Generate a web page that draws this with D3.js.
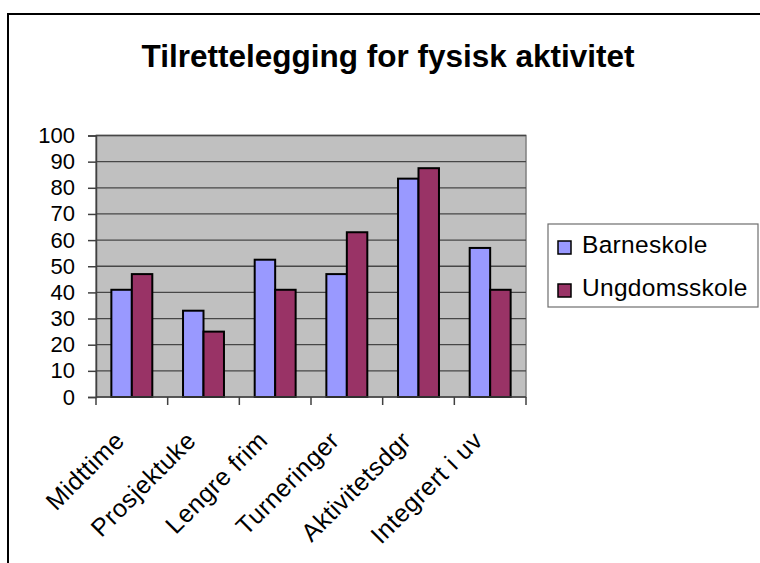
<!DOCTYPE html>
<html>
<head>
<meta charset="utf-8">
<script src="https://cdn.jsdelivr.net/npm/d3@7"></script>
<style>
  body { margin: 0; background: #fff; }
  text { font-family: Arial, "Liberation Sans", sans-serif; }
</style>
</head>
<body>
<div id="chart"></div>
<script>
// data
var categories = ["Midttime", "Prosjektuke", "Lengre frim", "Turneringer", "Aktivitetsdgr", "Integrert i uv"];
var seriesNames = ["Barneskole", "Ungdomsskole"];
var barneskole = [41, 33, 52.5, 47, 83.5, 57];
var ungdomsskole = [47, 25, 41, 63, 87.5, 41];
var yTicks = [0, 10, 20, 30, 40, 50, 60, 70, 80, 90, 100];
var colors = ["#9999ff", "#993366"];

var W = 760, H = 563;
var plot = {left: 96, right: 526, top: 135.5, bottom: 397};

var svg = d3.select("#chart")
  .append("svg")
    .attr("width", W)
    .attr("height", H);

// outer chart frame (runs off the right and bottom edge)
svg.append("rect")
  .attr("x", 8).attr("y", 14)
  .attr("width", 800).attr("height", 700)
  .attr("fill", "#fff")
  .attr("stroke", "#000")
  .attr("stroke-width", 2);

svg.append("text")
  .attr("x", 388).attr("y", 67)
  .attr("text-anchor", "middle")
  .style("font-size", "31.5px")
  .style("font-weight", "bold")
  .text("Tilrettelegging for fysisk aktivitet");

var x = d3.scaleBand()
  .domain(categories)
  .range([plot.left, plot.right]);

var xSub = d3.scaleBand()
  .domain(seriesNames)
  .range([0, x.bandwidth()])
  .paddingOuter(0.75);

var y = d3.scaleLinear()
  .domain([0, 100])
  .range([plot.bottom, plot.top]);

// plot area
svg.append("rect")
  .attr("x", plot.left).attr("y", plot.top)
  .attr("width", plot.right - plot.left)
  .attr("height", plot.bottom - plot.top)
  .attr("fill", "#c0c0c0")
  .attr("stroke", "#808080")
  .attr("stroke-width", 1.5);

// gridlines
svg.append("g")
  .selectAll("line")
  .data(yTicks.filter(function(d) { return d > 0; }))
  .enter()
  .append("line")
    .attr("x1", plot.left).attr("x2", plot.right)
    .attr("y1", function(d) { return y(d); })
    .attr("y2", function(d) { return y(d); })
    .attr("stroke", "#474747")
    .attr("stroke-width", 1.3);

// y axis
var yAxis = svg.append("g")
  .attr("transform", "translate(" + plot.left + ",0)")
  .call(d3.axisLeft(y).tickValues(yTicks).tickSize(8).tickPadding(13));
yAxis.select(".domain").attr("stroke", "#404040").attr("stroke-width", 1.5);
yAxis.selectAll(".tick line").attr("stroke", "#404040").attr("stroke-width", 1.5);
yAxis.selectAll("text")
  .style("font-size", "22px")
  .style("font-family", "Arial, 'Liberation Sans', sans-serif")
  .attr("fill", "#000");

// bars
var data = categories.map(function(c, i) {
  return {cat: c, values: [barneskole[i], ungdomsskole[i]]};
});

var groups = svg.append("g")
  .selectAll("g")
  .data(data)
  .enter()
  .append("g")
    .attr("transform", function(d) { return "translate(" + x(d.cat) + ",0)"; });

groups.selectAll("rect")
  .data(function(d) { return d.values.map(function(v, j) { return {key: seriesNames[j], value: v, j: j}; }); })
  .enter()
  .append("rect")
    .attr("x", function(d) { return xSub(d.key); })
    .attr("y", function(d) { return y(d.value); })
    .attr("width", xSub.bandwidth())
    .attr("height", function(d) { return y(0) - y(d.value); })
    .attr("fill", function(d) { return colors[d.j]; })
    .attr("stroke", "#000")
    .attr("stroke-width", 2);

// x axis line and ticks at band edges
svg.append("line")
  .attr("x1", plot.left).attr("x2", plot.right)
  .attr("y1", plot.bottom).attr("y2", plot.bottom)
  .attr("stroke", "#404040").attr("stroke-width", 1.5);

var edges = categories.map(function(c) { return x(c); }).concat([plot.right]);
svg.append("g")
  .selectAll("line")
  .data(edges)
  .enter()
  .append("line")
    .attr("x1", function(d) { return d; }).attr("x2", function(d) { return d; })
    .attr("y1", plot.bottom).attr("y2", plot.bottom + 8)
    .attr("stroke", "#404040").attr("stroke-width", 1.5);

// rotated category labels
svg.append("g")
  .selectAll("text")
  .data(categories)
  .enter()
  .append("text")
    .attr("text-anchor", "end")
    .attr("transform", function(d) {
      var cx = x(d) + x.bandwidth() / 2 - 6;
      return "translate(" + cx + ",442) rotate(-45)";
    })
    .style("font-size", "25px")
    .style("letter-spacing", "0.5px")
    .text(function(d) { return d; });

// legend
var legend = svg.append("g");
legend.append("rect")
  .attr("x", 548).attr("y", 224)
  .attr("width", 210).attr("height", 83)
  .attr("fill", "#fff")
  .attr("stroke", "#6e6e6e")
  .attr("stroke-width", 1.2);

var items = legend.selectAll("g")
  .data(seriesNames)
  .enter()
  .append("g")
    .attr("transform", function(d, i) { return "translate(558," + (241 + i * 43) + ")"; });

items.append("rect")
  .attr("width", 13).attr("height", 13)
  .attr("fill", function(d, i) { return colors[i]; })
  .attr("stroke", "#000")
  .attr("stroke-width", 1.5);

items.append("text")
  .attr("x", 24).attr("y", 12)
  .style("font-size", "24.5px")
  .style("letter-spacing", "0.3px")
  .text(function(d) { return d; });
</script>
</body>
</html>
